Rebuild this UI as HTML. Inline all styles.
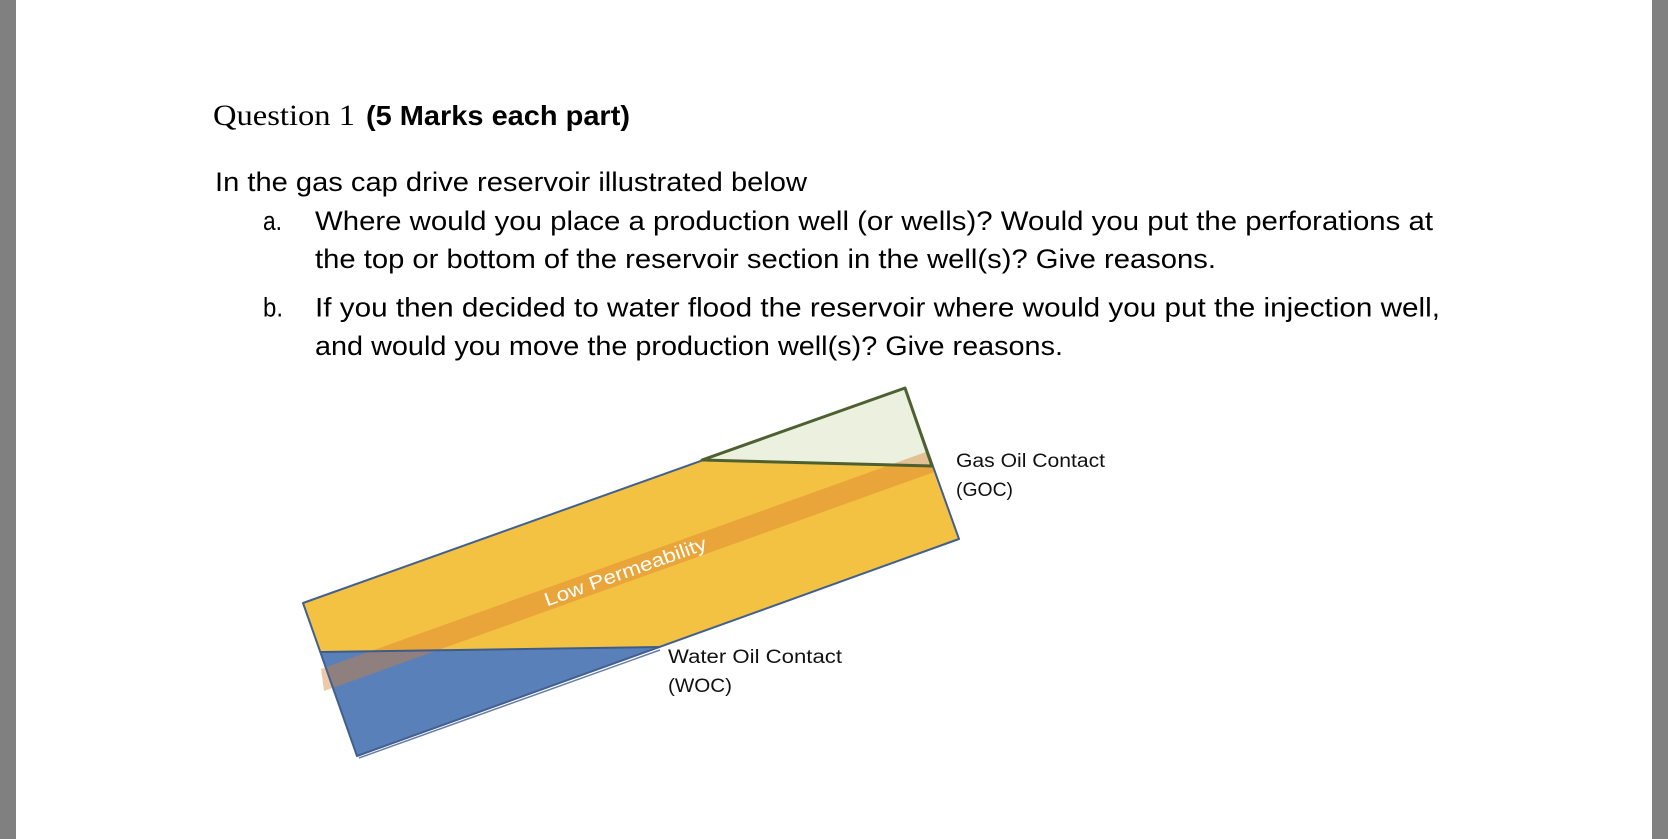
<!DOCTYPE html>
<html>
<head>
<meta charset="utf-8">
<style>
  html, body { margin: 0; padding: 0; background: #ffffff; }
  body { width: 1668px; height: 839px; overflow: hidden; }
  svg { display: block; }
</style>
</head>
<body>
<svg width="1668" height="839" viewBox="0 0 1668 839" xmlns="http://www.w3.org/2000/svg">
  <!-- page background -->
  <rect x="0" y="0" width="1668" height="839" fill="#ffffff"/>
  <rect x="0" y="0" width="16" height="839" fill="#808080"/>
  <rect x="1652" y="0" width="16" height="839" fill="#808080"/>

  <!-- Title -->
  <text x="213" y="125" font-family="'Liberation Serif', serif" font-size="30" fill="#000" textLength="142" lengthAdjust="spacingAndGlyphs">Question 1</text>
  <text x="366" y="125" font-family="'Liberation Sans', sans-serif" font-weight="bold" font-size="27.5" fill="#000" textLength="264" lengthAdjust="spacingAndGlyphs">(5 Marks each part)</text>

  <!-- Body text -->
  <g font-family="'Liberation Sans', sans-serif" font-size="26.5" fill="#000">
    <text x="215" y="191" textLength="592" lengthAdjust="spacingAndGlyphs">In the gas cap drive reservoir illustrated below</text>
    <text x="263" y="230" textLength="19" lengthAdjust="spacingAndGlyphs">a.</text>
    <text x="315" y="230" textLength="1118" lengthAdjust="spacingAndGlyphs">Where would you place a production well (or wells)? Would you put the perforations at</text>
    <text x="315" y="268" textLength="901" lengthAdjust="spacingAndGlyphs">the top or bottom of the reservoir section in the well(s)? Give reasons.</text>
    <text x="263" y="316.5" textLength="20" lengthAdjust="spacingAndGlyphs">b.</text>
    <text x="315" y="316.5" textLength="1125" lengthAdjust="spacingAndGlyphs">If you then decided to water flood the reservoir where would you put the injection well,</text>
    <text x="315" y="355" textLength="748" lengthAdjust="spacingAndGlyphs">and would you move the production well(s)? Give reasons.</text>
  </g>

  <!-- Reservoir diagram -->
  <polygon points="303,603 905,388 959,539 357,756" fill="#F4C242"/>
  <polygon points="321,652 660,647 357,756" fill="#5A80BA"/>
  <polygon points="702,460 905,388 932,466" fill="#EBF1DE"/>

  <!-- low permeability band (semi-transparent) -->
  <polygon points="321,669 928,451.3 935.5,471.6 324,691" fill="#D87E2E" fill-opacity="0.42"/>

  <!-- outlines -->
  <polygon points="303,603 905,388 959,539 357,756" fill="none" stroke="#41608F" stroke-width="2" stroke-linejoin="round"/>
  <line x1="359" y1="758" x2="660" y2="650" stroke="#41608F" stroke-width="1.5" opacity="0.8"/>
  <line x1="321" y1="652" x2="660" y2="647" stroke="#3E5C8A" stroke-width="2"/>
  <polygon points="702,460 905,388 932,466" fill="none" stroke="#4F6030" stroke-width="3" stroke-linejoin="round"/>

  <!-- Low Permeability label -->
  <text x="547" y="606.5" transform="rotate(-19.73 547 606.5)" font-family="'Liberation Sans', sans-serif" font-size="19" fill="#ffffff" textLength="171" lengthAdjust="spacingAndGlyphs">Low Permeability</text>

  <!-- Contact labels -->
  <g font-family="'Liberation Sans', sans-serif" font-size="19" fill="#111">
    <text x="956" y="467" textLength="149" lengthAdjust="spacingAndGlyphs">Gas Oil Contact</text>
    <text x="956" y="496" textLength="57" lengthAdjust="spacingAndGlyphs">(GOC)</text>
    <text x="668" y="663" textLength="174" lengthAdjust="spacingAndGlyphs">Water Oil Contact</text>
    <text x="668" y="692" textLength="64" lengthAdjust="spacingAndGlyphs">(WOC)</text>
  </g>
</svg>
</body>
</html>
